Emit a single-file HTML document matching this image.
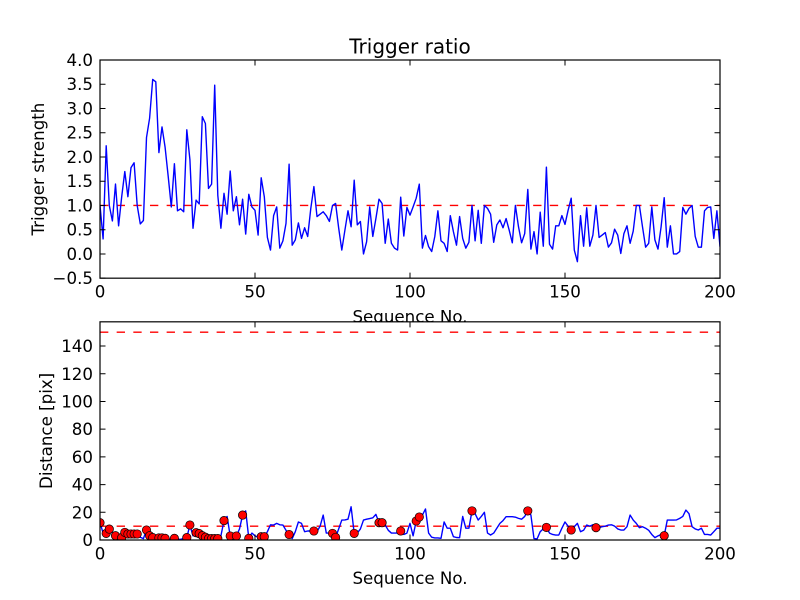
<!DOCTYPE html>
<html><head><meta charset="utf-8"><style>
html,body{margin:0;padding:0;background:#fff;}
svg{display:block;}
text{font-family:"DejaVu Sans","Liberation Sans",sans-serif;fill:#000;}
.tl{font-size:16.67px;}
</style></head><body>
<svg width="800" height="600" viewBox="0 0 800 600" xmlns="http://www.w3.org/2000/svg">
<defs>
<clipPath id="c1"><rect x="100" y="60" width="620" height="218.18"/></clipPath>
<clipPath id="c2"><rect x="100" y="321.82" width="620" height="218.18"/></clipPath>
</defs>
<rect x="0" y="0" width="800" height="600" fill="#fff"/>
<rect x="100" y="60" width="620" height="218.18" fill="#fff"/>
<g clip-path="url(#c1)">
<line x1="100" y1="205.45" x2="720" y2="205.45" stroke="#ff0000" stroke-width="1.39" stroke-dasharray="8.33 8.33"/>
<g transform="matrix(3.1,0,0,-48.485,100,253.94)">
<polyline fill="none" stroke="#0000ff" stroke-width="1.39" vector-effect="non-scaling-stroke" stroke-linejoin="round" points="0,1.0 1,0.31 2,2.23 3,1.0 4,0.68 5,1.44 6,0.58 7,1.18 8,1.7 9,1.18 10,1.78 11,1.88 12,1.0 13,0.62 14,0.69 15,2.4 16,2.8 17,3.6 18,3.55 19,2.09 20,2.62 21,2.2 22,1.6 23,0.97 24,1.86 25,0.89 26,0.93 27,0.87 28,2.56 29,1.95 30,0.53 31,1.11 32,1.03 33,2.83 34,2.69 35,1.35 36,1.44 37,3.48 38,1.21 39,0.53 40,1.25 41,0.82 42,1.71 43,0.89 44,1.18 45,0.6 46,1.13 47,0.41 48,1.23 49,0.97 50,0.9 51,0.39 52,1.57 53,1.18 54,0.34 55,0.08 56,0.79 57,0.97 58,0.12 59,0.27 60,0.63 61,1.85 62,0.18 63,0.29 64,0.64 65,0.32 66,0.54 67,0.36 68,0.94 69,1.39 70,0.77 71,0.82 72,0.87 73,0.79 74,0.67 75,1.0 76,1.04 77,0.53 78,0.08 79,0.49 80,0.89 81,0.56 82,1.52 83,0.6 84,0.67 85,0.0 86,0.25 87,0.97 88,0.36 89,0.73 90,1.13 91,1.04 92,0.22 93,0.72 94,0.22 95,0.12 96,0.08 97,1.17 98,0.37 99,0.96 100,0.8 101,0.97 102,1.15 103,1.44 104,0.12 105,0.38 106,0.15 107,0.05 108,0.36 109,0.89 110,0.27 111,0.22 112,0.05 113,0.79 114,0.46 115,0.18 116,0.77 117,0.32 118,0.12 119,0.24 120,1.0 121,0.27 122,0.9 123,0.22 124,1.0 125,0.94 126,0.82 127,0.24 128,0.6 129,0.7 130,0.54 131,0.73 132,0.49 133,0.23 134,1.0 135,0.56 136,0.23 137,0.42 138,1.33 139,0.1 140,0.46 141,0.0 142,0.86 143,0.16 144,1.79 145,0.2 146,0.1 147,0.58 148,0.58 149,0.79 150,0.61 151,0.9 152,1.15 153,0.08 154,-0.16 155,0.79 156,0.16 157,0.95 158,0.16 159,0.39 160,1.0 161,0.34 162,0.39 163,0.44 164,0.14 165,0.23 166,0.51 167,0.39 168,0.01 169,0.42 170,0.58 171,0.22 172,0.47 173,1.0 174,1.0 175,0.56 176,0.14 177,0.22 178,0.97 179,0.29 180,0.1 181,0.56 182,1.16 183,0.14 184,0.58 185,0.0 186,0.0 187,0.05 188,0.96 189,0.82 190,0.94 191,1.0 192,0.36 193,0.14 194,0.14 195,0.89 196,0.96 197,0.97 198,0.32 199,0.89 200,0.15"/>
</g>
</g>
<rect x="100" y="60" width="620" height="218.18" fill="none" stroke="#000" stroke-width="1.2"/>
<g stroke="#000" stroke-width="1">
<path d="M100,278.18h5.5M100,253.94h5.5M100,229.70h5.5M100,205.45h5.5M100,181.21h5.5M100,156.97h5.5M100,132.73h5.5M100,108.49h5.5M100,84.24h5.5M100,60h5.5"/>
<path d="M720,278.18h-5.5M720,253.94h-5.5M720,229.70h-5.5M720,205.45h-5.5M720,181.21h-5.5M720,156.97h-5.5M720,132.73h-5.5M720,108.49h-5.5M720,84.24h-5.5M720,60h-5.5"/>
<path d="M100,278.18v-5.5M255,278.18v-5.5M410,278.18v-5.5M565,278.18v-5.5M720,278.18v-5.5"/>
<path d="M100,60v5.5M255,60v5.5M410,60v5.5M565,60v5.5M720,60v5.5"/>
</g>
<g class="tl" text-anchor="end">
<text x="93" y="284.2">−0.5</text>
<text x="93" y="259.9">0.0</text>
<text x="93" y="235.7">0.5</text>
<text x="93" y="211.5">1.0</text>
<text x="93" y="187.2">1.5</text>
<text x="93" y="163.0">2.0</text>
<text x="93" y="138.7">2.5</text>
<text x="93" y="114.5">3.0</text>
<text x="93" y="90.2">3.5</text>
<text x="93" y="66.0">4.0</text>
</g>
<g class="tl" text-anchor="middle">
<text x="100" y="297.7">0</text>
<text x="255" y="297.7">50</text>
<text x="410" y="297.7">100</text>
<text x="565" y="297.7">150</text>
<text x="720" y="297.7">200</text>
</g>
<text x="410" y="53.3" text-anchor="middle" style="font-size:20px">Trigger ratio</text>
<text class="tl" x="410" y="322.3" text-anchor="middle">Sequence No.</text>
<text class="tl" transform="translate(44,169.1) rotate(-90)" text-anchor="middle">Trigger strength</text>
<rect x="100" y="321.82" width="620" height="218.18" fill="#fff"/>
<g clip-path="url(#c2)">
<line x1="100" y1="526.15" x2="720" y2="526.15" stroke="#ff0000" stroke-width="1.39" stroke-dasharray="8.33 8.33"/>
<line x1="100" y1="332.2" x2="720" y2="332.2" stroke="#ff0000" stroke-width="1.39" stroke-dasharray="8.33 8.33"/>
<g transform="matrix(3.1,0,0,-1.3853,100,540)">
<polyline fill="none" stroke="#0000ff" stroke-width="1.39" vector-effect="non-scaling-stroke" stroke-linejoin="round" points="0,12.5 1,5 2,4.8 3,7.9 4,5 5,3.1 6,2 7,1.7 8,5.5 9,4.3 10,4.3 11,4.3 12,4.3 13,2 14,1 15,7.2 16,3.1 17,1.7 18,1 19,1.5 20,1.5 21,1.2 22,0.5 23,0.5 24,1.2 25,0.5 26,0.5 27,1 28,1.7 29,10.8 30,3 31,5.3 32,4.6 33,3.1 34,2 35,1 36,1 37,1 38,1 39,3 40,14 41,17 42,2.9 43,4 44,2.9 45,8 46,18 47,21 48,1.2 49,5 50,3 51,2 52,2.4 53,2.4 54,6 55,11 56,10.8 57,12 58,11 59,10.8 60,7 61,4 62,1 63,6 64,13 65,12 66,6 67,6.5 68,6.5 69,6.5 70,6 71,10 72,18 73,5 74,5 75,4.8 76,1.9 77,8 78,14.4 79,14.5 80,15 81,24 82,4.8 83,5 84,8 85,14.4 86,15 87,15.5 88,16 89,18.5 90,12.5 91,12.5 92,10.8 93,7 94,5 95,5 96,5 97,6.5 98,4 99,5 100,12 101,3 102,13.7 103,16.6 104,18 105,22.4 106,5 107,2 108,1.5 109,1.5 110,1.2 111,13 112,8.5 113,8.5 114,2.4 115,1.8 116,1.7 117,17 118,8.5 119,8.5 120,21 121,19 122,14.4 123,17 124,20 125,5 126,3.6 127,5 128,8.5 129,12 130,14 131,16.8 132,16.8 133,16.8 134,16.5 135,15.6 136,15 137,17 138,21 139,18 140,1 141,0.8 142,6 143,8 144,9.1 145,5 146,4 147,3.6 148,3.6 149,8.5 150,13 151,10 152,7.2 153,9.6 154,12 155,6 156,7 157,10.8 158,10 159,11 160,8.9 161,9 162,9.6 163,10 164,10.8 165,11 166,10 167,8 168,7.2 169,7.2 170,9.6 171,18 172,14.4 173,12 174,8.9 175,9.6 176,8.5 177,7 178,4 179,1.7 180,3 181,4 182,3.1 183,14.4 184,14.4 185,14.4 186,14.5 187,15.6 188,17 189,21.6 190,19 191,9.6 192,8 193,7.2 194,8.5 195,4 196,4 197,3.6 198,6 199,8.5 200,8.5"/>
</g>
<g fill="#ff0000" stroke="#000" stroke-width="0.7">
<circle cx="100" cy="522.7" r="4.2"/>
<circle cx="106.2" cy="533.4" r="4.2"/>
<circle cx="109.3" cy="529.1" r="4.2"/>
<circle cx="115.5" cy="535.7" r="4.2"/>
<circle cx="121.7" cy="537.6" r="4.2"/>
<circle cx="124.8" cy="532.4" r="4.2"/>
<circle cx="127.9" cy="534.0" r="4.2"/>
<circle cx="131" cy="534.0" r="4.2"/>
<circle cx="134.1" cy="534.0" r="4.2"/>
<circle cx="137.2" cy="534.0" r="4.2"/>
<circle cx="146.5" cy="530.0" r="4.2"/>
<circle cx="149.6" cy="535.7" r="4.2"/>
<circle cx="152.7" cy="537.6" r="4.2"/>
<circle cx="158.9" cy="537.9" r="4.2"/>
<circle cx="162" cy="537.9" r="4.2"/>
<circle cx="165.1" cy="538.3" r="4.2"/>
<circle cx="174.4" cy="538.3" r="4.2"/>
<circle cx="186.8" cy="537.6" r="4.2"/>
<circle cx="189.9" cy="525.0" r="4.2"/>
<circle cx="196.1" cy="532.7" r="4.2"/>
<circle cx="199.2" cy="533.6" r="4.2"/>
<circle cx="202.3" cy="535.7" r="4.2"/>
<circle cx="205.4" cy="537.2" r="4.2"/>
<circle cx="208.5" cy="538.6" r="4.2"/>
<circle cx="211.6" cy="538.6" r="4.2"/>
<circle cx="214.7" cy="538.6" r="4.2"/>
<circle cx="217.8" cy="538.6" r="4.2"/>
<circle cx="224" cy="520.6" r="4.2"/>
<circle cx="230.2" cy="536.0" r="4.2"/>
<circle cx="236.4" cy="536.0" r="4.2"/>
<circle cx="242.6" cy="515.1" r="4.2"/>
<circle cx="248.8" cy="538.3" r="4.2"/>
<circle cx="261.2" cy="536.7" r="4.2"/>
<circle cx="264.3" cy="536.7" r="4.2"/>
<circle cx="289.1" cy="534.5" r="4.2"/>
<circle cx="313.9" cy="531.0" r="4.2"/>
<circle cx="332.5" cy="533.4" r="4.2"/>
<circle cx="335.6" cy="537.4" r="4.2"/>
<circle cx="354.2" cy="533.4" r="4.2"/>
<circle cx="379" cy="522.7" r="4.2"/>
<circle cx="382.1" cy="522.7" r="4.2"/>
<circle cx="400.7" cy="531.0" r="4.2"/>
<circle cx="416.2" cy="521.0" r="4.2"/>
<circle cx="419.3" cy="517.0" r="4.2"/>
<circle cx="472" cy="510.9" r="4.2"/>
<circle cx="527.8" cy="510.9" r="4.2"/>
<circle cx="546.4" cy="527.4" r="4.2"/>
<circle cx="571.2" cy="530.0" r="4.2"/>
<circle cx="596" cy="527.7" r="4.2"/>
<circle cx="664.2" cy="535.7" r="4.2"/>
</g>
</g>
<rect x="100" y="321.82" width="620" height="218.18" fill="none" stroke="#000" stroke-width="1.2"/>
<g stroke="#000" stroke-width="1">
<path d="M100,540h5.5M100,512.29h5.5M100,484.59h5.5M100,456.88h5.5M100,429.18h5.5M100,401.47h5.5M100,373.76h5.5M100,346.06h5.5"/>
<path d="M720,540h-5.5M720,512.29h-5.5M720,484.59h-5.5M720,456.88h-5.5M720,429.18h-5.5M720,401.47h-5.5M720,373.76h-5.5M720,346.06h-5.5"/>
<path d="M100,540v-5.5M255,540v-5.5M410,540v-5.5M565,540v-5.5M720,540v-5.5"/>
<path d="M100,321.82v5.5M255,321.82v5.5M410,321.82v5.5M565,321.82v5.5M720,321.82v5.5"/>
</g>
<g class="tl" text-anchor="end">
<text x="93" y="546.0">0</text>
<text x="93" y="518.3">20</text>
<text x="93" y="490.6">40</text>
<text x="93" y="462.9">60</text>
<text x="93" y="435.2">80</text>
<text x="93" y="407.5">100</text>
<text x="93" y="379.8">120</text>
<text x="93" y="352.1">140</text>
</g>
<g class="tl" text-anchor="middle">
<text x="100" y="559.5">0</text>
<text x="255" y="559.5">50</text>
<text x="410" y="559.5">100</text>
<text x="565" y="559.5">150</text>
<text x="720" y="559.5">200</text>
</g>
<text class="tl" x="410" y="584" text-anchor="middle">Sequence No.</text>
<text class="tl" transform="translate(52,430.9) rotate(-90)" text-anchor="middle">Distance [pix]</text>
</svg>
</body></html>
